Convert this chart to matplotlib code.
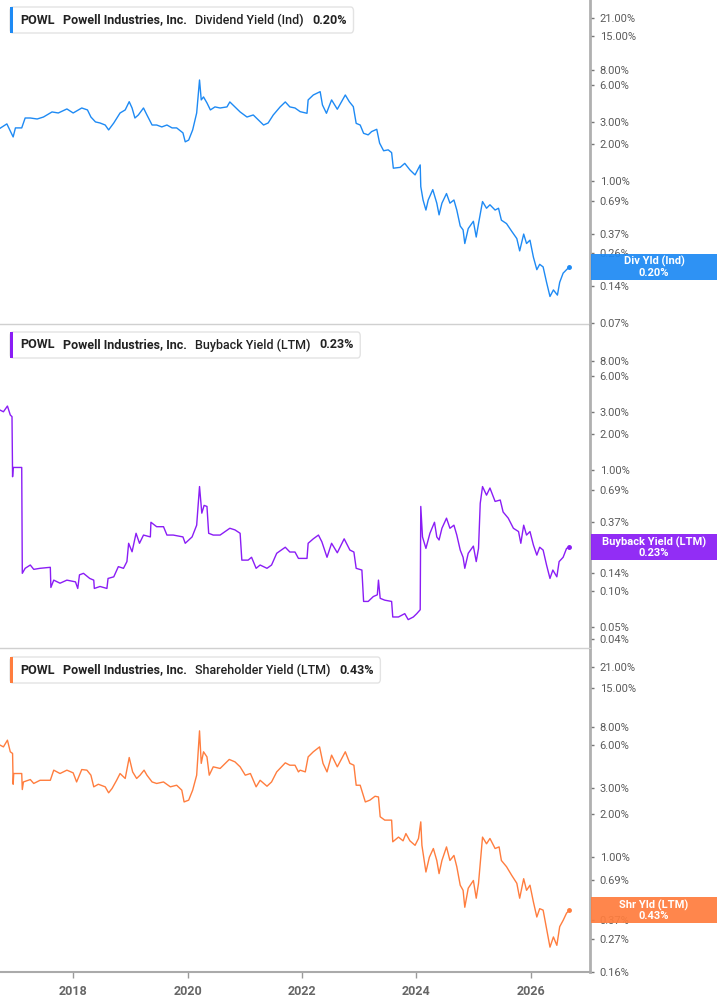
import numpy as np
import matplotlib
matplotlib.use("Agg")
import matplotlib.pyplot as plt
from matplotlib.patches import Rectangle, FancyBboxPatch

plt.rcParams['font.family'] = ['Roboto', 'DejaVu Sans']

# ---- data (decimal years, yield in %) ----
div_dates = [2016.72, 2016.84, 2016.95, 2016.99, 2017.10, 2017.16, 2017.25, 2017.37, 2017.48, 2017.63,
             2017.74, 2017.89, 2018.00, 2018.15, 2018.25, 2018.31, 2018.39, 2018.47, 2018.56, 2018.62,
             2018.71, 2018.82, 2018.91, 2018.98, 2019.03, 2019.08, 2019.14, 2019.23, 2019.29, 2019.38,
             2019.46, 2019.55, 2019.64, 2019.73, 2019.81, 2019.92, 2019.96, 2020.02, 2020.09, 2020.16,
             2020.21, 2020.24, 2020.28, 2020.34, 2020.40, 2020.48, 2020.57, 2020.69, 2020.74, 2020.83,
             2020.92, 2021.04, 2021.15, 2021.24, 2021.33, 2021.41, 2021.50, 2021.62, 2021.71, 2021.79,
             2021.88, 2021.97, 2022.09, 2022.11, 2022.20, 2022.32, 2022.36, 2022.43, 2022.52, 2022.62,
             2022.76, 2022.83, 2022.90, 2022.95, 2023.02, 2023.08, 2023.16, 2023.22, 2023.31, 2023.36,
             2023.43, 2023.51, 2023.57, 2023.60, 2023.72, 2023.80, 2023.89, 2023.98, 2024.07, 2024.08,
             2024.12, 2024.17, 2024.21, 2024.29, 2024.36, 2024.40, 2024.45, 2024.53, 2024.59, 2024.66,
             2024.71, 2024.77, 2024.82, 2024.85, 2024.91, 2025.00, 2025.05, 2025.09, 2025.16, 2025.23,
             2025.29, 2025.38, 2025.44, 2025.49, 2025.58, 2025.67, 2025.76, 2025.81, 2025.88, 2025.93,
             2025.99, 2026.05, 2026.11, 2026.16, 2026.22, 2026.28, 2026.34, 2026.40, 2026.47, 2026.51,
             2026.57, 2026.63, 2026.68]
div_yield = [2.68, 2.91, 2.28, 2.70, 2.70, 3.25, 3.25, 3.19, 3.31, 3.64,
             3.57, 3.85, 3.57, 3.92, 3.78, 3.31, 3.02, 2.96, 2.85, 2.60,
             2.96, 3.57, 3.78, 4.41, 3.92, 3.25, 3.44, 3.92, 3.44, 2.85,
             2.85, 2.75, 2.85, 2.70, 2.70, 2.46, 2.08, 2.15, 2.60, 3.57,
             6.62, 4.56, 4.82, 4.31, 3.78, 4.00, 3.92, 4.00, 4.39, 4.00,
             3.64, 3.31, 3.44, 3.13, 2.85, 2.96, 3.44, 4.00, 4.39, 4.00,
             3.92, 3.66, 3.55, 4.56, 5.00, 5.32, 4.15, 3.55, 4.56, 3.83,
             5.00, 4.41, 4.02, 2.94, 2.85, 2.44, 2.37, 2.52, 2.63, 2.03,
             1.76, 1.79, 1.70, 1.27, 1.29, 1.39, 1.23, 1.12, 1.35, 0.90,
             0.70, 0.58, 0.70, 0.85, 0.66, 0.53, 0.66, 0.79, 0.66, 0.70,
             0.58, 0.43, 0.40, 0.31, 0.41, 0.47, 0.35, 0.45, 0.68, 0.60,
             0.64, 0.58, 0.60, 0.48, 0.45, 0.39, 0.34, 0.27, 0.37, 0.31,
             0.33, 0.24, 0.19, 0.21, 0.20, 0.15, 0.115, 0.13, 0.118, 0.15,
             0.178, 0.19, 0.20]

bb_dates = [2016.72, 2016.78, 2016.85, 2016.90, 2016.93, 2016.94, 2016.95, 2017.10, 2017.11, 2017.16,
            2017.25, 2017.31, 2017.42, 2017.60, 2017.61, 2017.66, 2017.77, 2017.89, 2018.04, 2018.08,
            2018.11, 2018.18, 2018.29, 2018.36, 2018.37, 2018.47, 2018.59, 2018.61, 2018.71, 2018.79,
            2018.88, 2018.94, 2018.97, 2019.03, 2019.10, 2019.16, 2019.23, 2019.35, 2019.36, 2019.46,
            2019.58, 2019.64, 2019.75, 2019.92, 2019.96, 2020.08, 2020.16, 2020.21, 2020.25, 2020.29,
            2020.34, 2020.37, 2020.45, 2020.57, 2020.74, 2020.83, 2020.92, 2020.95, 2021.06, 2021.12,
            2021.20, 2021.27, 2021.39, 2021.47, 2021.56, 2021.71, 2021.79, 2021.88, 2021.94, 2022.09,
            2022.11, 2022.20, 2022.29, 2022.35, 2022.44, 2022.52, 2022.62, 2022.74, 2022.84, 2022.91,
            2022.95, 2023.05, 2023.08, 2023.16, 2023.25, 2023.32, 2023.34, 2023.37, 2023.45, 2023.57,
            2023.59, 2023.69, 2023.80, 2023.86, 2023.95, 2024.01, 2024.07, 2024.08, 2024.11, 2024.17,
            2024.24, 2024.32, 2024.36, 2024.40, 2024.45, 2024.53, 2024.59, 2024.66, 2024.71, 2024.77,
            2024.82, 2024.85, 2024.91, 2025.00, 2025.05, 2025.09, 2025.12, 2025.16, 2025.23, 2025.29,
            2025.38, 2025.47, 2025.52, 2025.61, 2025.70, 2025.79, 2025.83, 2025.88, 2025.93, 2025.99,
            2026.05, 2026.11, 2026.16, 2026.22, 2026.28, 2026.34, 2026.39, 2026.46, 2026.50, 2026.57,
            2026.63, 2026.68]
bb_yield = [3.13, 3.03, 3.38, 2.85, 2.76, 0.88, 1.05, 1.05, 0.14, 0.154,
            0.164, 0.151, 0.154, 0.157, 0.107, 0.123, 0.116, 0.123, 0.119, 0.105,
            0.136, 0.14, 0.127, 0.123, 0.105, 0.109, 0.105, 0.127, 0.131, 0.159,
            0.154, 0.175, 0.248, 0.211, 0.30, 0.248, 0.29, 0.28, 0.37, 0.34,
            0.34, 0.29, 0.29, 0.28, 0.248, 0.28, 0.35, 0.73, 0.44, 0.51,
            0.50, 0.30, 0.29, 0.29, 0.33, 0.32, 0.30, 0.18, 0.18, 0.19,
            0.154, 0.164, 0.154, 0.164, 0.205, 0.23, 0.21, 0.21, 0.186, 0.186,
            0.248, 0.27, 0.29, 0.255, 0.19, 0.248, 0.207, 0.27, 0.218, 0.21,
            0.154, 0.149, 0.082, 0.082, 0.09, 0.093, 0.123, 0.087, 0.084, 0.082,
            0.061, 0.061, 0.065, 0.058, 0.061, 0.065, 0.070, 0.50, 0.28, 0.225,
            0.30, 0.37, 0.28, 0.264, 0.33, 0.40, 0.33, 0.35, 0.29, 0.218,
            0.19, 0.154, 0.205, 0.235, 0.175, 0.225, 0.53, 0.73, 0.62, 0.71,
            0.55, 0.565, 0.45, 0.40, 0.33, 0.31, 0.248, 0.35, 0.29, 0.31,
            0.24, 0.198, 0.23, 0.218, 0.164, 0.127, 0.149, 0.131, 0.175, 0.19,
            0.225, 0.23]

shr_dates = [2016.72, 2016.78, 2016.85, 2016.90, 2016.94, 2016.95, 2016.96, 2017.10, 2017.11, 2017.13,
             2017.25, 2017.31, 2017.42, 2017.60, 2017.66, 2017.77, 2017.89, 2018.00, 2018.06, 2018.15,
             2018.24, 2018.31, 2018.36, 2018.44, 2018.56, 2018.62, 2018.68, 2018.76, 2018.82, 2018.91,
             2018.98, 2019.04, 2019.11, 2019.17, 2019.24, 2019.29, 2019.38, 2019.46, 2019.58, 2019.70,
             2019.81, 2019.90, 2019.94, 2020.02, 2020.09, 2020.16, 2020.21, 2020.24, 2020.28, 2020.34,
             2020.38, 2020.45, 2020.57, 2020.73, 2020.83, 2020.92, 2021.01, 2021.10, 2021.20, 2021.27,
             2021.39, 2021.47, 2021.56, 2021.71, 2021.79, 2021.88, 2021.94, 2021.97, 2022.06, 2022.11,
             2022.20, 2022.31, 2022.37, 2022.44, 2022.52, 2022.62, 2022.76, 2022.84, 2022.91, 2022.95,
             2023.02, 2023.11, 2023.19, 2023.28, 2023.34, 2023.37, 2023.45, 2023.57, 2023.59, 2023.69,
             2023.77, 2023.82, 2023.89, 2023.98, 2024.04, 2024.08, 2024.10, 2024.14, 2024.17, 2024.23,
             2024.30, 2024.36, 2024.40, 2024.45, 2024.53, 2024.59, 2024.66, 2024.71, 2024.77, 2024.82,
             2024.85, 2024.91, 2025.00, 2025.05, 2025.09, 2025.16, 2025.23, 2025.29, 2025.38, 2025.45,
             2025.49, 2025.58, 2025.67, 2025.76, 2025.81, 2025.88, 2025.93, 2025.99, 2026.05, 2026.11,
             2026.16, 2026.22, 2026.28, 2026.34, 2026.40, 2026.46, 2026.51, 2026.57, 2026.63, 2026.68]
shr_yield = [6.00, 5.83, 6.49, 5.39, 5.25, 3.21, 3.81, 3.81, 2.95, 3.33,
             3.46, 3.25, 3.42, 3.42, 4.02, 3.81, 4.02, 3.85, 3.33, 4.06,
             4.02, 3.71, 3.08, 3.21, 3.08, 2.80, 3.00, 3.42, 3.81, 3.52,
             4.92, 3.91, 3.52, 3.71, 4.02, 3.71, 3.33, 3.25, 3.33, 3.08,
             3.16, 2.92, 2.42, 2.49, 2.92, 3.71, 7.53, 4.48, 5.39, 4.97,
             3.71, 4.24, 4.13, 4.77, 4.59, 4.24, 3.71, 3.81, 3.08, 3.42,
             3.11, 3.33, 3.91, 4.52, 4.35, 4.35, 3.91, 4.02, 3.91, 4.97,
             5.39, 5.83, 4.48, 3.91, 5.11, 4.24, 5.39, 4.48, 4.35, 3.16,
             3.16, 2.42, 2.49, 2.65, 2.62, 1.91, 1.81, 1.81, 1.28, 1.38,
             1.30, 1.46, 1.30, 1.21, 1.35, 1.76, 1.21, 0.95, 0.79, 1.00,
             1.15, 0.95, 0.77, 0.95, 1.18, 0.95, 1.03, 0.86, 0.64, 0.59,
             0.45, 0.61, 0.69, 0.52, 0.66, 1.38, 1.24, 1.35, 1.15, 1.18,
             0.95, 0.86, 0.75, 0.66, 0.52, 0.71, 0.59, 0.64, 0.49, 0.385,
             0.44, 0.43, 0.32, 0.238, 0.28, 0.245, 0.33, 0.365, 0.41, 0.43]

div_ticks = [21, 15, 8, 6, 3, 2, 1, 0.69, 0.37, 0.26, 0.14, 0.07]
bb_ticks = [8, 6, 3, 2, 1, 0.69, 0.37, 0.14, 0.10, 0.05, 0.04]
shr_ticks = [21, 15, 8, 6, 3, 2, 1, 0.69, 0.37, 0.27, 0.16]
year_ticks = [2018, 2020, 2022, 2024, 2026]

BLUE = '#1e8af4'
PURPLE = '#8a1df5'
ORANGE = '#ff7d3e'

W, H = 717, 1005
fig = plt.figure(figsize=(W / 100, H / 100), dpi=100)
fig.patch.set_facecolor('white')

ax1 = fig.add_axes([0, 1 - 324 / H, 590 / W, 324 / H])
ax2 = fig.add_axes([0, 1 - 648 / H, 590 / W, 323 / H])
ax3 = fig.add_axes([0, 1 - 972 / H, 590 / W, 322 / H])

panels = [
    (ax1, div_dates, div_yield, div_ticks, BLUE, (0.0687, 29.6), 'Dividend Yield (Ind)', 'Div Yld (Ind)'),
    (ax2, bb_dates, bb_yield, bb_ticks, PURPLE, (0.0338, 15.8), 'Buyback Yield (LTM)', 'Buyback Yield (LTM)'),
    (ax3, shr_dates, shr_yield, shr_ticks, ORANGE, (0.16, 27.4), 'Shareholder Yield (LTM)', 'Shr Yld (LTM)'),
]

renderer = fig.canvas.get_renderer()

for i, (ax, xs, ys, ticks, col, ylim, name, short) in enumerate(panels):
    ax.plot(xs, ys, color=col, lw=1.0)
    ax.plot(xs[-1], ys[-1], 'o', color=col, ms=2.5)
    ax.set_yscale('log')
    ax.set_ylim(*ylim)
    ax.set_xlim(2016.72, 2027.04)
    ax.yaxis.tick_right()
    ax.set_yticks(ticks)
    ax.set_yticklabels(['%.2f%%' % t for t in ticks])
    ax.yaxis.set_minor_locator(matplotlib.ticker.NullLocator())
    ax.tick_params(axis='y', which='major', length=3, width=1, color='#777777',
                   labelsize=8, labelcolor='#5a5a5a', pad=4)
    for s in ['left', 'top']:
        ax.spines[s].set_visible(False)
    ax.spines['right'].set_color('#b0b0b0')
    ax.spines['right'].set_linewidth(2)
    if i < 2:
        ax.spines['bottom'].set_color('#d0d0d0')
        ax.spines['bottom'].set_linewidth(1)
        ax.set_xticks([])
    else:
        ax.spines['bottom'].set_color('#aaaaaa')
        ax.spines['bottom'].set_linewidth(1.5)
        ax.set_xticks(year_ticks)
        ax.set_xticklabels([str(y) for y in year_ticks])
        ax.tick_params(axis='x', length=4, width=1, color='#999999', labelsize=9,
                       labelcolor='#666666', pad=5)
        for lab in ax.get_xticklabels():
            lab.set_fontweight('bold')
    ax.set_facecolor('none')

    # legend chip in the top-left corner
    top_px = [0, 325, 650][i]
    yc = top_px + 20
    x = 20
    parts = [('POWL', 'bold'), ('Powell Industries, Inc.', 'semibold'),
             (name, 'medium'), ('%.2f%%' % ys[-1], 'bold')]
    for txt, wt in parts:
        t = fig.text(x / W, 1 - yc / H, txt, fontsize=9, fontweight=wt, color='#222222',
                     ha='left', va='center', zorder=5)
        bb = t.get_window_extent(renderer)
        x += bb.width + 8.5
    box = FancyBboxPatch((10 / W, 1 - (yc + 13) / H), (x - 2 - 10) / W, 26 / H,
                         boxstyle='round,pad=0,rounding_size=0.004', transform=fig.transFigure,
                         facecolor='white', edgecolor='#e3e3e3', lw=1, zorder=4)
    fig.patches.append(box)
    fig.patches.append(Rectangle((10 / W, 1 - (yc + 13) / H), 3 / W, 26 / H,
                                 transform=fig.transFigure, facecolor=col, edgecolor='none', zorder=4.5))

    # last-value tag on the right axis
    ydisp = ax.transData.transform((xs[-1], ys[-1]))[1]
    yfig = fig.transFigure.inverted().transform((0, ydisp))[1]
    fig.patches.append(Rectangle((591 / W, yfig - 13 / H), 126 / W, 26 / H,
                                 transform=fig.transFigure, facecolor=col, edgecolor='none',
                                 alpha=0.93, zorder=6))
    fig.text(654 / W, yfig, '%s\n%.2f%%' % (short, ys[-1]), color='white', fontsize=8,
             fontweight='bold', ha='center', va='center', linespacing=1.05, zorder=7)

fig.savefig('out.png', dpi=100)
